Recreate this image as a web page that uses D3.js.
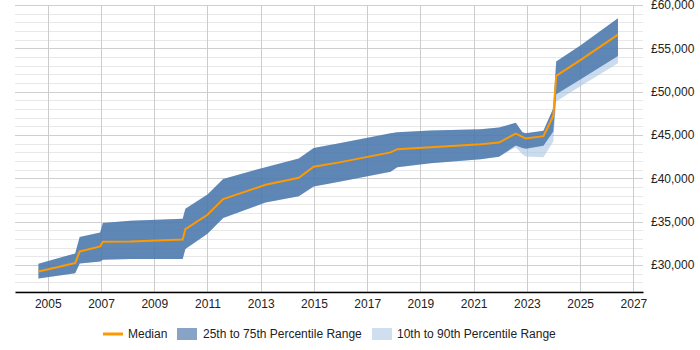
<!DOCTYPE html>
<html>
<head>
<meta charset="utf-8">
<script src="https://cdn.jsdelivr.net/npm/d3@7"></script>
<style>
  body { margin: 0; background: #fff; }
  svg text { font-family: "Liberation Sans", Arial, sans-serif; font-size: 12px; fill: #222; }
</style>
</head>
<body>
<div class="graph"></div>
<script>
// decimal years of each sample
let years = [2004.65, 2006.03, 2006.2, 2006.97, 2007.07, 2008.1, 2010.07, 2010.17, 2011.0, 2011.59,
    2013.18, 2014.43, 2014.99, 2016.0, 2017.88, 2018.13, 2019.38, 2021.26, 2021.95, 2022.58,
    2022.83, 2022.96, 2023.62, 2023.99, 2024.1, 2025.02, 2026.42];
let median = [29274, 30242, 31580, 32160, 32700, 32730, 32963, 34160, 35800, 37616,
    39264, 40070, 41350, 41880, 43000, 43376, 43606, 43950, 44137, 45175,
    44790, 44600, 44874, 47213, 51820, 53664, 56580];
let p25 = [28450, 29070, 30200, 30430, 30625, 30705, 30705, 31850, 33620, 35430,
    37225, 37950, 39070, 39645, 40760, 41300, 41760, 42220, 42500, 43790,
    43500, 43410, 43757, 45400, 49710, 51440, 54125];
let p75 = [30150, 31350, 33240, 33770, 34850, 35120, 35350, 36500, 38150, 39930,
    41300, 42300, 43520, 44070, 45200, 45330, 45520, 45680, 45866, 46406,
    45330, 45220, 45500, 48100, 53470, 55350, 58468];
let p10 = [28450, 29070, 30200, 30430, 30625, 30705, 30705, 31850, 33620, 35430,
    37225, 37950, 39070, 39645, 40760, 41300, 41760, 42220, 42500, 43600,
    42800, 42540, 42455, 44250, 48860, 50670, 53280];
let p90 = [30150, 31350, 33240, 33770, 34850, 35120, 35350, 36500, 38150, 39930,
    41300, 42300, 43520, 44070, 45200, 45330, 45520, 45680, 45866, 46406,
    45330, 45220, 45500, 48100, 53470, 55350, 58468];
let xTicks = [2005, 2007, 2009, 2011, 2013, 2015, 2017, 2019, 2021, 2023, 2025, 2027];
let yTicks = [30000, 35000, 40000, 45000, 50000, 55000, 60000];
let legendLabels = ["Median", "25th to 75th Percentile Range", "10th to 90th Percentile Range"];

let width = 700, height = 350;
let plot = {left: 15, right: 643, top: 5, bottom: 292};

let svg = d3.select(".graph").append("svg")
    .attr("width", width)
    .attr("height", height);

let x = d3.scaleLinear().domain([2003.77, 2027.36]).range([plot.left, plot.right]);
let y = d3.scaleLinear().domain([26900, 60000]).range([plot.bottom, plot.top]);

// minor horizontal grid
svg.append("g")
    .selectAll("line")
    .data(d3.range(27000, 60001, 1000).filter(v => v % 5000 !== 0))
    .enter().append("line")
    .attr("x1", plot.left).attr("x2", plot.right)
    .attr("y1", d => Math.round(y(d)) + 0.5).attr("y2", d => Math.round(y(d)) + 0.5)
    .attr("stroke", "#e8e8e8");

// major horizontal grid
svg.append("g")
    .selectAll("line")
    .data(yTicks)
    .enter().append("line")
    .attr("x1", plot.left).attr("x2", plot.right)
    .attr("y1", d => Math.round(y(d)) + 0.5).attr("y2", d => Math.round(y(d)) + 0.5)
    .attr("stroke", "#cfcfcf");

// vertical grid
svg.append("g")
    .selectAll("line")
    .data(xTicks)
    .enter().append("line")
    .attr("x1", d => Math.round(x(d)) + 0.5).attr("x2", d => Math.round(x(d)) + 0.5)
    .attr("y1", plot.top).attr("y2", plot.bottom)
    .attr("stroke", "#cccccc");

let idx = d3.range(years.length);

let outer = d3.area()
    .x(i => x(years[i]))
    .y0(i => y(p10[i]))
    .y1(i => y(p90[i]));
let inner = d3.area()
    .x(i => x(years[i]))
    .y0(i => y(p25[i]))
    .y1(i => y(p75[i]));
let line = d3.line()
    .x(i => x(years[i]))
    .y(i => y(median[i]));

svg.append("path").datum(idx)
    .attr("d", outer)
    .attr("fill", "#a8c4e4")
    .attr("fill-opacity", 0.6);

svg.append("path").datum(idx)
    .attr("d", inner)
    .attr("fill", "#30639e")
    .attr("fill-opacity", 0.7);

svg.append("path").datum(idx)
    .attr("d", line)
    .attr("fill", "none")
    .attr("stroke", "#ff9900")
    .attr("stroke-width", 2);

// x axis
svg.append("g")
    .attr("transform", "translate(0," + plot.bottom + ")")
    .call(d3.axisBottom(x)
        .tickValues(xTicks)
        .tickFormat(d3.format("d"))
        .tickSize(0)
        .tickPadding(7))
    .call(g => g.select(".domain").attr("stroke", "#000").attr("stroke-width", 1.5))
    .call(g => g.selectAll("text").attr("font-size", null).attr("font-family", null));

// y axis on the right
svg.append("g")
    .attr("transform", "translate(" + (plot.right + 5) + ",0)")
    .call(d3.axisRight(y)
        .tickValues(yTicks)
        .tickFormat(d => "£" + d3.format(",")(d))
        .tickSize(0)
        .tickPadding(3))
    .call(g => g.select(".domain").remove())
    .call(g => g.selectAll("text").attr("font-size", null).attr("font-family", null));

// legend
let legend = svg.append("g").attr("transform", "translate(0,334)");
legend.append("line")
    .attr("x1", 103).attr("x2", 123)
    .attr("stroke", "#ff9900").attr("stroke-width", 3);
legend.append("text").attr("x", 128).attr("dy", "0.35em").text(legendLabels[0]);
legend.append("rect")
    .attr("x", 177).attr("y", -6).attr("width", 20).attr("height", 12)
    .attr("fill", "#30639e").attr("fill-opacity", 0.58);
legend.append("text").attr("x", 203).attr("dy", "0.35em").text(legendLabels[1]);
legend.append("rect")
    .attr("x", 372).attr("y", -6).attr("width", 20).attr("height", 12)
    .attr("fill", "#a8c4e4").attr("fill-opacity", 0.55);
legend.append("text").attr("x", 397).attr("dy", "0.35em").text(legendLabels[2]);
</script>
</body>
</html>
